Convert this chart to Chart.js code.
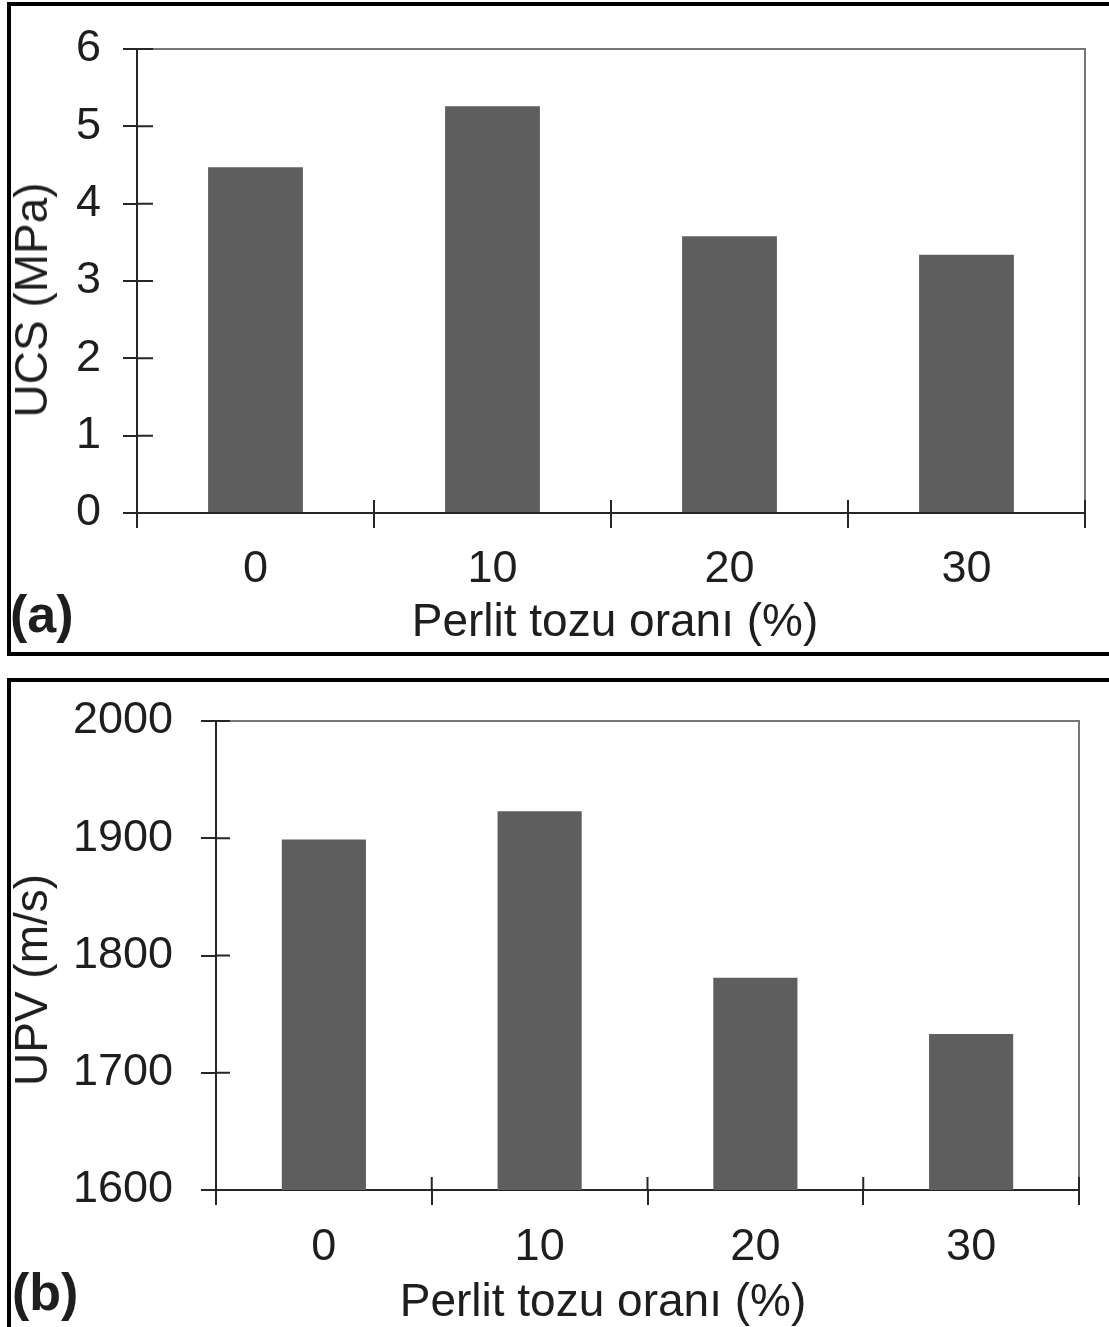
<!DOCTYPE html>
<html>
<head>
<meta charset="utf-8">
<script src="https://cdn.jsdelivr.net/npm/chart.js@4"></script>
<style>
	body { margin: 0; background: #fff; }
	#page { position: relative; width: 1109px; height: 1327px; overflow: hidden; background: #fff; font-family: "Liberation Sans", Arial, sans-serif; color: #1e1e1e; }
	.frame { position: absolute; box-sizing: border-box; border: 4px solid #000; border-right: none; }
	.plot { position: absolute; left: 0; }
	.txt { position: absolute; white-space: nowrap; line-height: 1; transform: translate(-50%, -50%); font-size: 46px; }
	.ytitle { transform: translate(-50%, -50%) rotate(-90deg); }
	.letter { position: absolute; font-weight: bold; font-size: 52px; line-height: 1; }
</style>
</head>
<body>
<div id="page">
	<div class="frame" style="left:7px; top:2px; width:1120px; height:654px;"></div>
	<div class="frame" style="left:7px; top:678px; width:1120px; height:700px; border-bottom:none;"></div>

	<canvas id="ucsChart" class="plot" width="1109" height="655" style="top:0px;"></canvas>
	<canvas id="upvChart" class="plot" width="1109" height="667" style="top:660px;"></canvas>

	<div class="txt ytitle" style="left:31px; top:300px;">UCS (MPa)</div>
	<div class="txt" style="left:615px; top:620px;">Perlit tozu oranı (%)</div>
	<div class="letter" style="left:10px; top:588px;">(a)</div>

	<div class="txt ytitle" style="left:31px; top:980px;">UPV (m/s)</div>
	<div class="txt" style="left:603px; top:1300px;">Perlit tozu oranı (%)</div>
	<div class="letter" style="left:12px; top:1266px;">(b)</div>
</div>

<script>
// data
const categories = ["0", "10", "20", "30"];
const ucsValues = [4.47, 5.26, 3.58, 3.34];
const upvValues = [1899, 1923, 1781, 1733];
const ucsRange = [0, 6, 1];
const upvRange = [1600, 2000, 100];

const barColor = "#5e5e5e";
const axisColor = "#262626";
const frameColor = "#767676";
const textColor = "#1e1e1e";
const tickFont = { family: "'Liberation Sans', Arial, sans-serif", size: 45 };

// ticks that cross the axis + gray top/right frame of the plot
const crossTicks = {
	id: "crossTicks",
	afterDraw(chart, args, opts) {
		const ctx = chart.ctx;
		const area = chart.chartArea;
		const xs = chart.scales.x;
		const ys = chart.scales.y;
		ctx.save();
		ctx.lineWidth = 2;
		ctx.strokeStyle = frameColor;
		ctx.beginPath();
		ctx.moveTo(area.left, area.top);
		ctx.lineTo(area.right, area.top);
		ctx.lineTo(area.right, area.bottom);
		ctx.stroke();

		ctx.strokeStyle = axisColor;
		ctx.beginPath();
		ys.ticks.forEach((t, i) => {
			const py = ys.getPixelForTick(i);
			ctx.moveTo(area.left, py);
			ctx.lineTo(area.left + opts.yInner, py);
		});
		for (let i = 0; i <= categories.length; i++) {
			const px = xs.getPixelForValue(i - 0.5);
			ctx.moveTo(px, area.bottom);
			ctx.lineTo(px, area.bottom - opts.xInner);
		}
		ctx.stroke();
		ctx.restore();
	}
};

function makeChart(id, values, range, cfg) {
	return new Chart(document.getElementById(id), {
		type: "bar",
		data: {
			labels: categories,
			datasets: [{
				data: values,
				backgroundColor: barColor,
				borderWidth: 0,
				barPercentage: cfg.barPct,
				categoryPercentage: 1
			}]
		},
		options: {
			responsive: false,
			animation: false,
			layout: { padding: cfg.padding },
			plugins: {
				legend: { display: false },
				tooltip: { enabled: false },
				crossTicks: { yInner: cfg.yInner, xInner: cfg.xInner }
			},
			scales: {
				x: {
					grid: { display: true, drawOnChartArea: false, drawTicks: true, tickLength: cfg.xOuter, color: axisColor, lineWidth: 2 },
					border: { display: true, color: axisColor, width: 2 },
					ticks: { font: tickFont, color: textColor, padding: cfg.xPad },
					afterFit: function (scale) { scale.height = cfg.xHeight; }
				},
				y: {
					min: range[0],
					max: range[1],
					grid: { display: true, drawOnChartArea: false, drawTicks: true, tickLength: cfg.yOuter, color: axisColor, lineWidth: 2 },
					border: { display: true, color: axisColor, width: 2 },
					ticks: {
						stepSize: range[2],
						font: tickFont,
						color: textColor,
						padding: cfg.yPad,
						callback: function (value) { return String(value); }
					},
					afterFit: function (scale) { scale.width = cfg.yWidth; }
				}
			}
		},
		plugins: [crossTicks]
	});
}

makeChart("ucsChart", ucsValues, ucsRange, {
	barPct: 0.40,
	padding: { left: 0, right: 24, top: 42, bottom: 0 },
	yWidth: 137, xHeight: 142,
	yOuter: 14, yInner: 16, yPad: 22,
	xOuter: 15, xInner: 13, xPad: 15
});

makeChart("upvChart", upvValues, upvRange, {
	barPct: 0.39,
	padding: { left: 0, right: 30, top: 61, bottom: 0 },
	yWidth: 216, xHeight: 137,
	yOuter: 15, yInner: 14, yPad: 28,
	xOuter: 15, xInner: 13, xPad: 16
});
</script>
</body>
</html>
